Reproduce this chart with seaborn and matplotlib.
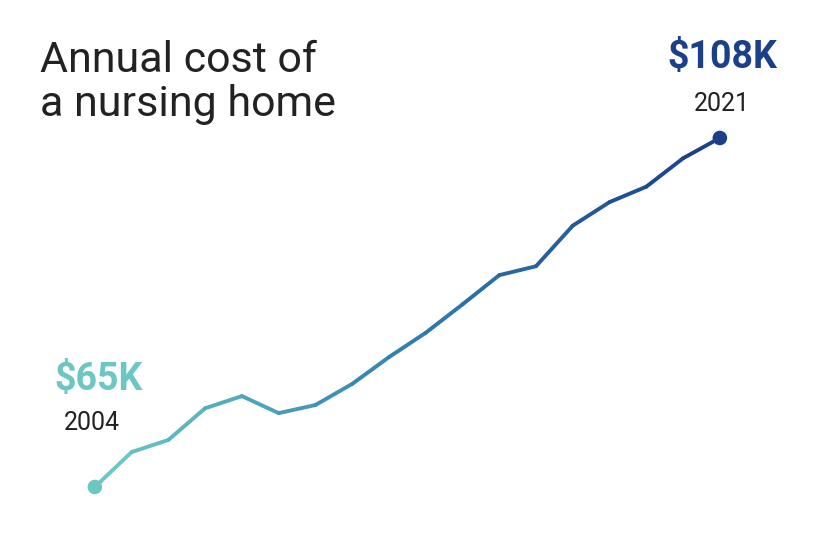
import numpy as np
import matplotlib
matplotlib.use("Agg")
import matplotlib.pyplot as plt
import seaborn as sns
from matplotlib.collections import LineCollection
from matplotlib.colors import LinearSegmentedColormap

years = list(range(2004, 2022))
cost_k = [65, 69.3, 70.8, 74.7, 76.2, 74.1, 75.1, 77.7, 81.0, 84.0,
          87.5, 91.1, 92.2, 97.2, 100.1, 102.0, 105.5, 108]

sns.set_theme(style="white")
plt.rcParams["font.family"] = ["Roboto", "DejaVu Sans"]

start_col = "#6cc7c2"
end_col = "#1c3f8a"
cmap = LinearSegmentedColormap.from_list("cost", [start_col, "#2f7fb0", end_col])

fig = plt.figure(figsize=(8.25, 5.49), dpi=100)
ax = fig.add_axes([0, 0, 1, 1])
ax.set_xlim(2001.42, 2023.86)
ax.set_ylim(57.36, 125.0)
ax.axis("off")

x = np.array(years, dtype=float)
y = np.array(cost_k)
pts = np.column_stack([x, y]).reshape(-1, 1, 2)
segs = np.concatenate([pts[:-1], pts[1:]], axis=1)
lc = LineCollection(segs, cmap=cmap, linewidth=2.8, capstyle="round", joinstyle="round")
lc.set_array(np.linspace(0, 1, len(segs)))
ax.add_collection(lc)

sns.scatterplot(x=[years[0], years[-1]], y=[cost_k[0], cost_k[-1]],
                hue=["a", "b"], palette=[start_col, end_col], s=110,
                edgecolor="none", legend=False, ax=ax, zorder=3)

fig.text(40 / 825, 1 - 40 / 549, "Annual cost of\na nursing home", fontsize=31,
         color="#222222", va="top", ha="left", linespacing=1.1)

fig.text(722 / 825, 1 - 58 / 549, f"${cost_k[-1]:.0f}K", fontsize=27, fontweight="bold",
         color=end_col, ha="center", va="center")
fig.text(722 / 825, 1 - 104 / 549, str(years[-1]), fontsize=18, color="#222222",
         ha="center", va="center")
fig.text(98 / 825, 1 - 380 / 549, f"${cost_k[0]:.0f}K", fontsize=27, fontweight="bold",
         color=start_col, ha="center", va="center")
fig.text(92 / 825, 1 - 423 / 549, str(years[0]), fontsize=18, color="#222222",
         ha="center", va="center")

fig.savefig("out.png", dpi=100)
